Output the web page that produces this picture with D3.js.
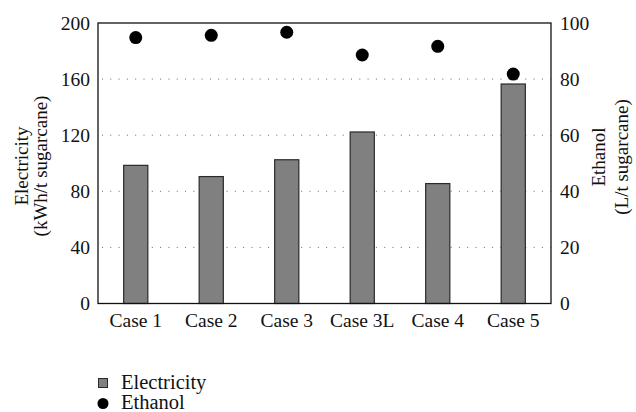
<!DOCTYPE html>
<html>
<head>
<meta charset="utf-8">
<script src="https://cdn.jsdelivr.net/npm/d3@7"></script>
</head>
<body style="margin:0; background:#fff">
<svg id="chart" width="636" height="412" font-family="Liberation Serif"></svg>
<script>
const cases = ["Case 1", "Case 2", "Case 3", "Case 3L", "Case 4", "Case 5"];
const electricity = [98.5, 90.5, 102.5, 122.3, 85.5, 156.5];
const ethanol = [94.8, 95.6, 96.7, 88.6, 91.7, 81.8];
const leftTicks = [0, 40, 80, 120, 160, 200];
const rightTicks = [0, 20, 40, 60, 80, 100];

const margin = {left: 98, right: 85, top: 23, bottom: 108.5};
const W = 636, H = 412;
const serif = "Liberation Serif";
const svg = d3.select("#chart");

const x = d3.scaleBand()
    .domain(cases)
    .range([margin.left, W - margin.right])
    .paddingInner(0.68)
    .paddingOuter(0.34);

const yL = d3.scaleLinear().domain([0, 200]).range([H - margin.bottom, margin.top]);
const yR = d3.scaleLinear().domain([0, 100]).range([H - margin.bottom, margin.top]);

// dotted gridlines
svg.append("g")
    .selectAll("line")
    .data(leftTicks.filter(d => d > 0 && d < 200))
    .join("line")
    .attr("x1", margin.left + 4)
    .attr("x2", W - margin.right)
    .attr("y1", d => yL(d))
    .attr("y2", d => yL(d))
    .attr("stroke", "#666")
    .attr("stroke-width", 1)
    .attr("stroke-dasharray", "1,7.3");

// bars
svg.append("g")
    .selectAll("rect")
    .data(cases)
    .join("rect")
    .attr("x", d => x(d))
    .attr("width", x.bandwidth())
    .attr("y", (d, i) => yL(electricity[i]))
    .attr("height", (d, i) => yL(0) - yL(electricity[i]))
    .attr("fill", "#808080")
    .attr("stroke", "#2a2a2a")
    .attr("stroke-width", 1.2);

// ethanol dots
svg.append("g")
    .selectAll("circle")
    .data(cases)
    .join("circle")
    .attr("cx", d => x(d) + x.bandwidth() / 2)
    .attr("cy", (d, i) => yR(ethanol[i]))
    .attr("r", 6.5)
    .attr("fill", "#000");

// frame
svg.append("rect")
    .attr("x", margin.left)
    .attr("y", margin.top)
    .attr("width", W - margin.left - margin.right)
    .attr("height", H - margin.top - margin.bottom)
    .attr("fill", "none")
    .attr("stroke", "#111")
    .attr("stroke-width", 1.3);

// axes (labels only)
const leftAxis = d3.axisLeft(yL).tickValues(leftTicks).tickSize(0).tickPadding(8);
const rightAxis = d3.axisRight(yR).tickValues(rightTicks).tickSize(0).tickPadding(9);
const bottomAxis = d3.axisBottom(x).tickSize(0).tickPadding(10);

const gl = svg.append("g").attr("transform", `translate(${margin.left},0)`).call(leftAxis);
const gr = svg.append("g").attr("transform", `translate(${W - margin.right},0)`).call(rightAxis);
const gb = svg.append("g").attr("transform", `translate(0,${H - margin.bottom})`).call(bottomAxis);
[gl, gr, gb].forEach(g => {
    g.attr("font-family", serif).attr("font-size", 19.5);
    g.select(".domain").remove();
    g.selectAll("text").attr("fill", "#111");
});

// axis titles
const lt = svg.append("text")
    .attr("transform", "translate(28,166) rotate(-90)")
    .attr("text-anchor", "middle")
    .attr("font-family", serif)
    .attr("font-size", 19)
    .attr("fill", "#111");
lt.append("tspan").attr("x", 0).attr("dy", 0).text("Electricity");
lt.append("tspan").attr("x", 0).attr("dy", 19).text("(kWh/t sugarcane)");

const rt = svg.append("text")
    .attr("transform", "translate(605,157) rotate(-90)")
    .attr("text-anchor", "middle")
    .attr("font-family", serif)
    .attr("font-size", 19)
    .attr("fill", "#111");
rt.append("tspan").attr("x", 0).attr("dy", 0).text("Ethanol");
rt.append("tspan").attr("x", 0).attr("dy", 23).text("(L/t sugarcane)");

// legend
const lg = svg.append("g").attr("font-family", serif).attr("font-size", 20.5).attr("fill", "#111");
lg.append("rect")
    .attr("x", 98.5).attr("y", 378.5)
    .attr("width", 9).attr("height", 9)
    .attr("fill", "#808080").attr("stroke", "#2a2a2a");
lg.append("text").attr("x", 121).attr("y", 389).text("Electricity");
lg.append("circle").attr("cx", 103).attr("cy", 403.5).attr("r", 5.5).attr("fill", "#000");
lg.append("text").attr("x", 121).attr("y", 409).text("Ethanol");
</script>
</body>
</html>
